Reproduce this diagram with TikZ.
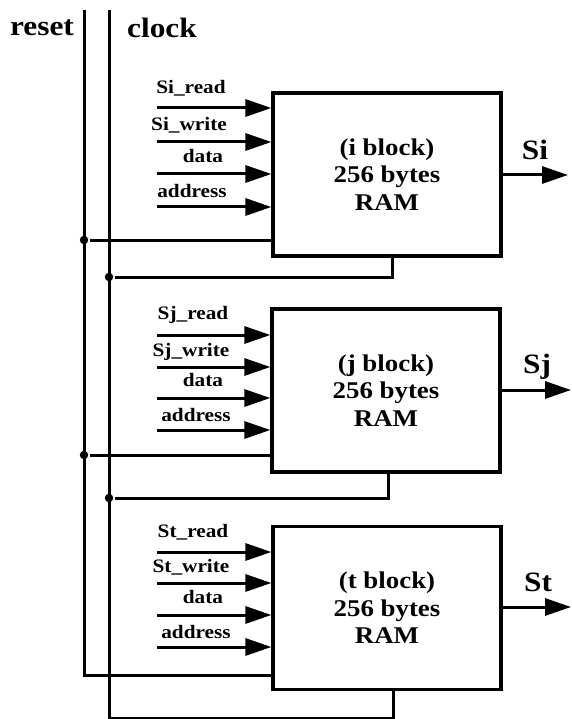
\documentclass[tikz,border=0pt]{standalone}
\usepackage{fontspec}
\setmainfont[FakeStretch=1.12]{Liberation Serif}
\usetikzlibrary{arrows.meta, positioning}

\begin{document}
\begin{tikzpicture}[
    x=1pt, y=-1pt,
    >={Triangle[length=26pt, width=17pt]},
    line width=3pt,
    dot/.style={circle, fill, inner sep=3pt},
    ram/.style={draw, line width=3.2pt, minimum width=228pt, minimum height=163pt,
      align=center, inner sep=0pt, font=\fontsize{24}{27.5}\selectfont\bfseries},
    sig/.style={inner sep=0pt, font=\fontsize{19}{21}\selectfont\bfseries},
    big/.style={inner sep=0pt, font=\fontsize{28}{30}\selectfont\bfseries}
  ]
  \useasboundingbox (0,0) rectangle (571,719);

  % Buses
  \node[big] (reset) at (42,28) {reset};
  \node[big] (clock) at (162,28) {clock};
  \coordinate (rtop) at (84,10);
  \coordinate (rbot) at (84,675);
  \coordinate (ctop) at (109,10);
  \coordinate (cbot) at (109,718);

  % i block
  \node[ram] (iblk) at (387,174.5) {(i block)\\256 bytes\\RAM};
  \coordinate (iin1) at (157,108);
  \coordinate (iin2) at (157,142);
  \coordinate (iin3) at (157,174);
  \coordinate (iin4) at (157,207);
  \node[sig] (ird) at (191,88) {Si\_read};
  \node[sig] (iwr) at (189,125) {Si\_write};
  \node[sig] (ida) at (203,156) {data};
  \node[sig] (iad) at (192,191) {address};
  \draw[->] (iin1) -- (iin1 -| iblk.west);
  \draw[->] (iin2) -- (iin2 -| iblk.west);
  \draw[->] (iin3) -- (iin3 -| iblk.west);
  \draw[->] (iin4) -- (iin4 -| iblk.west);
  \coordinate (iout) at (568,175);
  \node[big] (si) at (535,150) {Si};
  \draw[->] (iout -| iblk.east) -- (iout);
  \node[dot] (rdot1) at (84,240) {};
  \draw (rdot1) -- (rdot1 -| iblk.west);
  \node[dot] (cdot1) at (109,277) {};
  \coordinate (ctap1) at (392,277);
  \draw (cdot1) -- (ctap1) -- (ctap1 |- iblk.south);

  % j block
  \node[ram] (jblk) at (386,390.5) {(j block)\\256 bytes\\RAM};
  \coordinate (jin1) at (157,335);
  \coordinate (jin2) at (157,367);
  \coordinate (jin3) at (157,398);
  \coordinate (jin4) at (157,430);
  \node[sig] (jrd) at (193,315) {Sj\_read};
  \node[sig] (jwr) at (191,352) {Sj\_write};
  \node[sig] (jda) at (203,380) {data};
  \node[sig] (jad) at (196,415) {address};
  \draw[->] (jin1) -- (jin1 -| jblk.west);
  \draw[->] (jin2) -- (jin2 -| jblk.west);
  \draw[->] (jin3) -- (jin3 -| jblk.west);
  \draw[->] (jin4) -- (jin4 -| jblk.west);
  \coordinate (jout) at (571,390);
  \node[big] (sj) at (537,367) {Sj};
  \draw[->] (jout -| jblk.east) -- (jout);
  \node[dot] (rdot2) at (84,455) {};
  \draw (rdot2) -- (rdot2 -| jblk.west);
  \node[dot] (cdot2) at (109,498) {};
  \coordinate (ctap2) at (388,498);
  \draw (cdot2) -- (ctap2) -- (ctap2 |- jblk.south);

  % t block
  \node[ram] (tblk) at (387,608) {(t block)\\256 bytes\\RAM};
  \coordinate (tin1) at (157,552);
  \coordinate (tin2) at (157,583);
  \coordinate (tin3) at (157,615);
  \coordinate (tin4) at (157,647);
  \node[sig] (trd) at (193,532) {St\_read};
  \node[sig] (twr) at (191,567) {St\_write};
  \node[sig] (tda) at (203,597) {data};
  \node[sig] (tad) at (196,632) {address};
  \draw[->] (tin1) -- (tin1 -| tblk.west);
  \draw[->] (tin2) -- (tin2 -| tblk.west);
  \draw[->] (tin3) -- (tin3 -| tblk.west);
  \draw[->] (tin4) -- (tin4 -| tblk.west);
  \coordinate (tout) at (571,607);
  \node[big] (st) at (538,582) {St};
  \draw[->] (tout -| tblk.east) -- (tout);
  \coordinate (ctap3) at (393,718);

  % Bus lines
  \draw (rtop) -- (rbot) -- (rbot -| tblk.west);
  \draw (ctop) -- (cbot) -- (ctap3) -- (ctap3 |- tblk.south);
\end{tikzpicture}
\end{document}
